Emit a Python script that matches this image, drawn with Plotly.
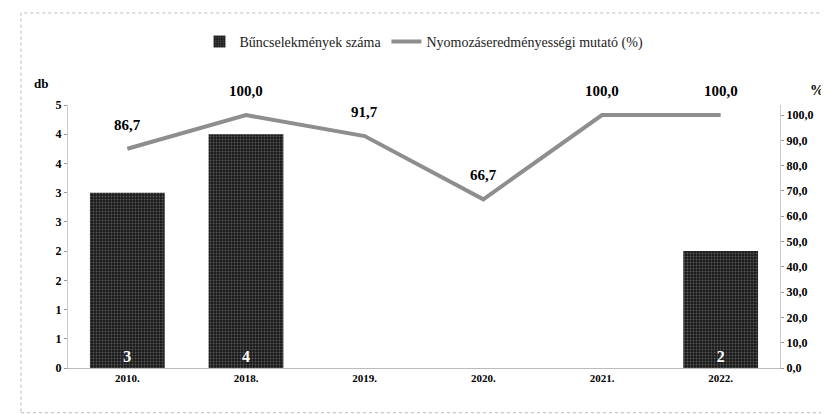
import plotly.graph_objects as go

years = ["2010.", "2018.", "2019.", "2020.", "2021.", "2022."]
crimes = [3, 4, 0, 0, 0, 2]
crime_text = ["3", "4", "", "", "", "2"]
rate = [86.7, 100.0, 91.7, 66.7, 100.0, 100.0]
left_tickvals = [0, 0.5, 1, 1.5, 2, 2.5, 3, 3.5, 4, 4.5]
left_ticktext = ["0", "1", "1", "2", "2", "3", "3", "4", "4", "5"]
right_tickvals = [0, 10, 20, 30, 40, 50, 60, 70, 80, 90, 100]

serif = "Liberation Serif"

fig = go.Figure()
fig.add_trace(go.Bar(
    x=years, y=crimes, name="Bűncselekmények száma",
    marker=dict(color="#1a1a1a", line=dict(width=0),
                pattern=dict(shape=".", fgcolor="#9a9a9a", size=3, solidity=0.3)),
    text=crime_text, textposition="inside", insidetextanchor="start",
    textfont=dict(family=serif, size=16, color="white", weight="bold"),
    textangle=0,
))
fig.add_trace(go.Scatter(
    x=years, y=rate, name="Nyomozáseredményességi mutató (%)",
    yaxis="y2", mode="lines",
    line=dict(color="#8e8e8e", width=4),
))

# category index positions for value labels above the line
annotations = [
    dict(x=i, y=v, xref="x", yref="y2", text=f"{v:.1f}".replace(".", ","),
         showarrow=False, yshift=24,
         font=dict(family=serif, size=15, color="black", weight="bold"))
    for i, v in enumerate(rate)
]
annotations += [
    dict(text="db", xref="paper", yref="paper", x=-0.025, y=1.08,
         xanchor="right", yanchor="middle", showarrow=False,
         font=dict(family=serif, size=13, color="black", weight="bold")),
    dict(text="%", xref="paper", yref="paper", x=1.04, y=1.055,
         xanchor="left", yanchor="middle", showarrow=False,
         font=dict(family=serif, size=14, color="black", weight="bold")),
]

fig.update_layout(
    width=829, height=414,
    paper_bgcolor="white", plot_bgcolor="white",
    separators=", ",
    margin=dict(l=60, r=57, t=97, b=54),
    bargap=0.37,
    font=dict(family=serif, color="black"),
    showlegend=True,
    legend=dict(orientation="h", x=0.5, xanchor="center", y=1.24, yanchor="middle",
                font=dict(family=serif, size=14, color="#222"),
                traceorder="normal"),
    xaxis=dict(type="category", range=[-0.5, len(years) - 0.5],
               showline=True, linecolor="#bbb", linewidth=1, ticks="",
               tickfont=dict(family=serif, size=11, color="black", weight="bold")),
    yaxis=dict(range=[0, 4.5], tickvals=left_tickvals, ticktext=left_ticktext,
               showgrid=False, zeroline=False, showline=True, linecolor="#ccc",
               ticks="outside", ticklen=3, tickcolor="#999",
               tickfont=dict(family=serif, size=12, color="black", weight="bold"),
               ticksuffix="   "),
    yaxis2=dict(range=[0, 104], tickvals=right_tickvals, overlaying="y", side="right",
                showgrid=False, zeroline=False, showline=True, linecolor="#ccc",
                ticks="outside", ticklen=3, tickcolor="#999",
                tickformat=".1f",
                tickfont=dict(family=serif, size=12, color="black", weight="bold"),
                tickprefix="  "),
    annotations=annotations,
    shapes=[
        dict(type="rect", xref="paper", yref="paper", x0=-0.066, x1=1.065,
             y0=-0.17, y1=1.35, line=dict(color="#bbb", width=1, dash="dot")),
    ],
)

fig.write_html("out.html")
